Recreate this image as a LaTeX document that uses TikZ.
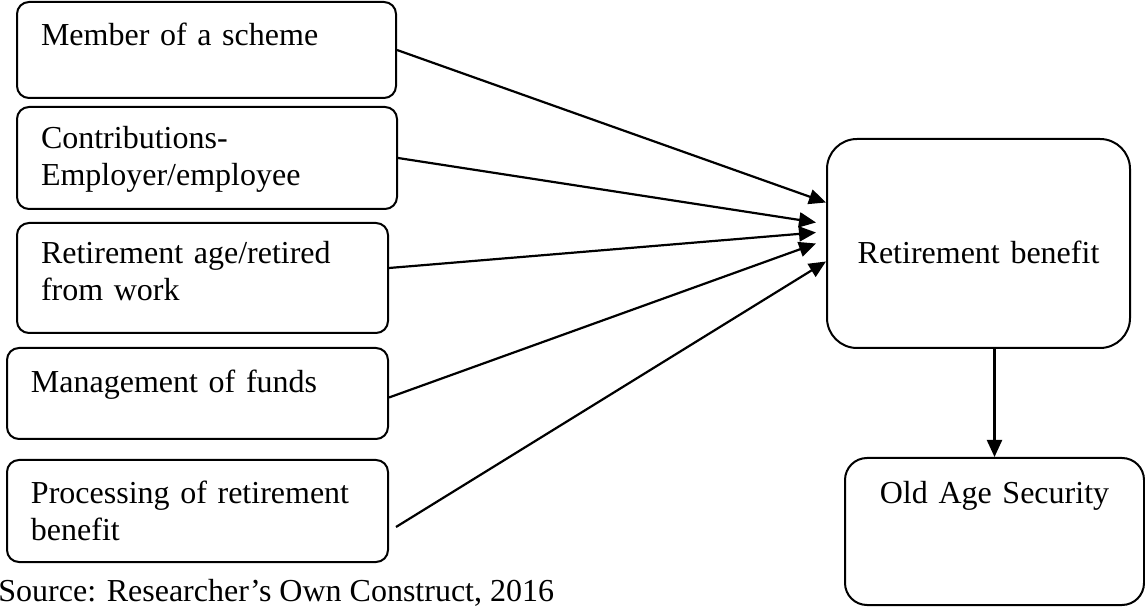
\documentclass[tikz,border=0pt]{standalone}
\usepackage{fontspec}
\setmainfont{Liberation Serif}
\usepackage{tikz}
\usetikzlibrary{positioning, calc, arrows.meta}
\tikzset{
	factornode/.style={
			draw=black,
			line width=1pt,
			rounded corners=6pt,
			anchor=north west,
			align=left,
			inner xsep=12pt,
			inner ysep=0pt
		},
	resultnode/.style={
			factornode,
			align=center,
			rounded corners=15pt
		},
	flowarrow/.style={
			line width=1.1pt,
			-{Triangle[length=8.5pt,width=7.5pt]}
		}
}
\begin{document}
\begin{tikzpicture}[x=0.5pt, y=-0.5pt, font=\fontsize{16}{18.5}\selectfont]
\useasboundingbox (0,0) rectangle (1145,608);

\node[factornode, text width=165.5pt, text height=22pt, text depth=26pt] (f1) at (16,1) {Member of a scheme};
\node[factornode, text width=166pt, text height=21pt, text depth=30pt] (f2) at (16,106) {Contributions-\\Employer/employee};
\node[factornode, text width=161.5pt, text height=20.5pt, text depth=34.5pt] (f3) at (16,222) {Retirement age/retired\\from work};
\node[factornode, text width=166.5pt, text height=22.5pt, text depth=23pt] (f4) at (6,347) {Management of funds};
\node[factornode, text width=166.5pt, text height=21.5pt, text depth=29.5pt] (f5) at (6,459) {Processing of retirement\\benefit};

\node[resultnode, text width=127.5pt, text height=62.5pt, text depth=42pt] (rb) at (826,138) {Retirement benefit};
\node[resultnode, rounded corners=11pt, text width=125.5pt, text height=22.5pt, text depth=51pt] (oa) at (844,457) {Old Age Security};

\node[anchor=base west, inner sep=0pt] (src) at (-2,601) {Source: Researcher’s Own Construct, 2016};

% arrow ends
\coordinate (f5end) at (396,527);
\coordinate (in1) at ($(rb.west)+(0,-41)$);
\coordinate (in2) at ($(rb.west)+(-10,-21)$);
\coordinate (in3) at ($(rb.west)+(-10,-11)$);
\coordinate (in4) at ($(rb.west)+(-10,0)$);
\coordinate (in5) at ($(rb.west)+(0,18)$);

\draw[flowarrow] (f1.east) -- (in1);
\draw[flowarrow] (f2.east) -- (in2);
\draw[flowarrow] ([yshift=5pt]f3.east) -- (in3);
\draw[flowarrow] ([yshift=-2pt]f4.east) -- (in4);
\draw[flowarrow] (f5end) -- (in5);

\draw[flowarrow] (rb.south -| oa.north) -- (oa.north);
\end{tikzpicture}
\end{document}
